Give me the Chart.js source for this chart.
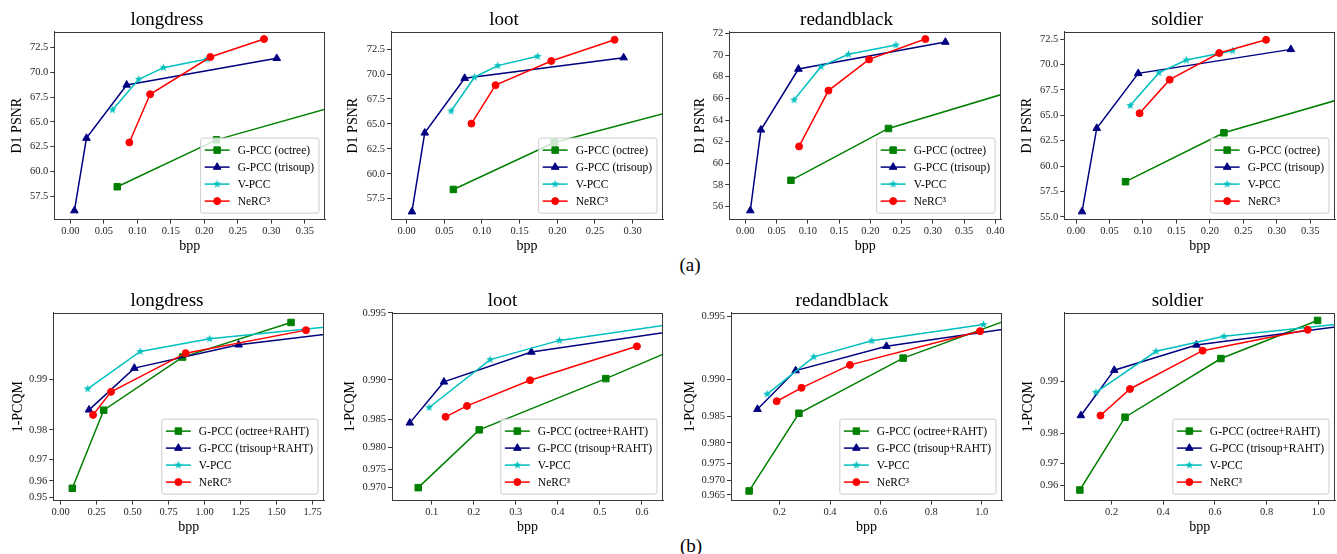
<!DOCTYPE html>
<html>
<head>
<meta charset="utf-8">
<script src="https://cdn.jsdelivr.net/npm/chart.js@4.4.0/dist/chart.umd.min.js"></script>
<style>
  html, body { margin: 0; padding: 0; background: #fff; overflow: hidden; }
  #fig { position: relative; width: 1337px; height: 554px; }
  #fig canvas { position: absolute; }
  .sub { position: absolute; font-family: "Liberation Serif", serif; font-size: 19px; color: #000;
         transform: translate(-50%, -50%); }
</style>
</head>
<body>
<div id="fig">
  <div class="sub" style="left:690px;top:265px">(a)</div>
  <div class="sub" style="left:691px;top:546px">(b)</div>
</div>
<script>
// series names
const psnrLabels = ['G-PCC (octree)', 'G-PCC (trisoup)', 'V-PCC', 'NeRC³'];
const pcqmLabels = ['G-PCC (octree+RAHT)', 'G-PCC (trisoup+RAHT)', 'V-PCC', 'NeRC³'];

// (a) D1 PSNR, points are [bpp, dB]
const d1LongdressOctree  = [[0.070, 58.47], [0.218, 63.19], [0.55, 69.49]];
const d1LongdressTrisoup = [[0.006, 56.06], [0.024, 63.36], [0.084, 68.72], [0.308, 71.40]];
const d1LongdressVpcc    = [[0.063, 66.21], [0.102, 69.29], [0.139, 70.46], [0.204, 71.33]];
const d1LongdressNerc    = [[0.088, 62.93], [0.119, 67.78], [0.209, 71.53], [0.289, 73.34]];

const d1LootOctree  = [[0.062, 58.43], [0.196, 63.14], [0.55, 70.22]];
const d1LootTrisoup = [[0.007, 56.20], [0.024, 64.10], [0.077, 69.58], [0.288, 71.64]];
const d1LootVpcc    = [[0.059, 66.29], [0.090, 69.68], [0.121, 70.84], [0.174, 71.77]];
const d1LootNerc    = [[0.086, 65.03], [0.118, 68.88], [0.192, 71.31], [0.276, 73.43]];

const d1RedblackOctree  = [[0.073, 58.43], [0.229, 63.22], [0.60, 69.66]];
const d1RedblackTrisoup = [[0.008, 55.63], [0.025, 63.09], [0.085, 68.71], [0.320, 71.20]];
const d1RedblackVpcc    = [[0.078, 65.86], [0.121, 68.93], [0.165, 70.07], [0.241, 70.93]];
const d1RedblackNerc    = [[0.086, 61.56], [0.133, 66.72], [0.198, 69.60], [0.288, 71.48]];

const d1SoldierOctree  = [[0.074, 58.47], [0.221, 63.28], [0.60, 70.51]];
const d1SoldierTrisoup = [[0.009, 55.52], [0.031, 63.73], [0.093, 69.13], [0.321, 71.49]];
const d1SoldierVpcc    = [[0.081, 65.96], [0.124, 69.20], [0.165, 70.44], [0.234, 71.36]];
const d1SoldierNerc    = [[0.095, 65.20], [0.140, 68.51], [0.214, 71.13], [0.284, 72.43]];

// (b) 1-PCQM, points are [bpp, score]
const pqLongdressOctree  = [[0.081, 0.95584], [0.299, 0.98473], [0.847, 0.99267], [1.600, 0.99547]];
const pqLongdressTrisoup = [[0.197, 0.98480], [0.512, 0.99146], [1.236, 0.99382], [2.50, 0.99545]];
const pqLongdressVpcc    = [[0.188, 0.98862], [0.553, 0.99322], [1.035, 0.99431], [2.40, 0.99570]];
const pqLongdressNerc    = [[0.225, 0.98371], [0.350, 0.98814], [0.868, 0.99306], [1.704, 0.99496]];

const pqLootOctree  = [[0.068, 0.97000], [0.213, 0.98332], [0.514, 0.99014], [0.80, 0.99418]];
const pqLootTrisoup = [[0.048, 0.98447], [0.129, 0.98980], [0.337, 0.99250], [0.80, 0.99441]];
const pqLootVpcc    = [[0.094, 0.98673], [0.239, 0.99189], [0.404, 0.99335], [0.80, 0.99481]];
const pqLootNerc    = [[0.133, 0.98540], [0.184, 0.98695], [0.334, 0.98997], [0.588, 0.99293]];

const pqRedblackOctree  = [[0.080, 0.96646], [0.277, 0.98551], [0.689, 0.99207], [1.30, 0.99574]];
const pqRedblackTrisoup = [[0.113, 0.98613], [0.264, 0.99091], [0.623, 0.99304], [1.30, 0.99469]];
const pqRedblackVpcc    = [[0.151, 0.98824], [0.336, 0.99218], [0.565, 0.99344], [1.007, 0.99452]];
const pqRedblackNerc    = [[0.189, 0.98729], [0.287, 0.98902], [0.479, 0.99146], [0.993, 0.99410]];

const pqSoldierOctree  = [[0.077, 0.95751], [0.252, 0.98386], [0.623, 0.99270], [0.997, 0.99565]];
const pqSoldierTrisoup = [[0.081, 0.98422], [0.210, 0.99145], [0.528, 0.99393], [1.30, 0.99572]];
const pqSoldierVpcc    = [[0.139, 0.98846], [0.372, 0.99338], [0.635, 0.99460], [1.30, 0.99580]];
const pqSoldierNerc    = [[0.157, 0.98422], [0.271, 0.98897], [0.552, 0.99344], [0.959, 0.99506]];

// tick values
const bppTicksTop   = [0, 0.05, 0.10, 0.15, 0.20, 0.25, 0.30, 0.35];
const bppTicksLoot  = [0, 0.05, 0.10, 0.15, 0.20, 0.25, 0.30];
const bppTicksRB    = [0, 0.05, 0.10, 0.15, 0.20, 0.25, 0.30, 0.35, 0.40];
const psnrTicks     = [57.5, 60, 62.5, 65, 67.5, 70, 72.5];
const psnrTicksRB   = [56, 58, 60, 62, 64, 66, 68, 70, 72];
const psnrTicksSold = [55, 57.5, 60, 62.5, 65, 67.5, 70, 72.5];
const bppTicksB1    = [0, 0.25, 0.5, 0.75, 1.0, 1.25, 1.5, 1.75];
const bppTicksB2    = [0.1, 0.2, 0.3, 0.4, 0.5, 0.6];
const bppTicksB3    = [0.2, 0.4, 0.6, 0.8, 1.0];
const pcqmTicks1    = [0.95, 0.96, 0.97, 0.98, 0.99];
const pcqmTicks2    = [0.970, 0.975, 0.980, 0.985, 0.990, 0.995];
const pcqmTicks3    = [0.965, 0.970, 0.975, 0.980, 0.985, 0.990, 0.995];
const pcqmTicks4    = [0.96, 0.97, 0.98, 0.99];

// ---- styling ----
const SERIF = '"Liberation Serif", "DejaVu Serif", serif';
const colors = ['#008000', '#000080', '#00bfbf', '#ff0000'];
const AXIS = '#3a3a3a';

function starImage(color, r) {
  const c = document.createElement('canvas');
  const s = Math.ceil(r * 2 + 2);
  c.width = c.height = s;
  const g = c.getContext('2d');
  g.beginPath();
  for (let i = 0; i < 10; i++) {
    const rr = i % 2 ? r * 0.42 : r;
    const a = -Math.PI / 2 + i * Math.PI / 5;
    g.lineTo(s / 2 + rr * Math.cos(a), s / 2 + rr * Math.sin(a));
  }
  g.closePath();
  g.fillStyle = color;
  g.fill();
  return c;
}
const markers = [
  { style: 'rect', radius: 4.6 },
  { style: 'triangle', radius: 4.4 },
  { style: starImage(colors[2], 4.2), radius: 4 },
  { style: 'circle', radius: 3.5 },
];

// logit axis like matplotlib's yscale('logit')
const logit = p => Math.log10(p / (1 - p));
const expit = l => 1 / (1 + Math.pow(10, -l));
class LogitScale extends Chart.LinearScale {
  configure() {
    super.configure();
    this._lo = logit(this.min);
    this._span = logit(this.max) - this._lo;
  }
  getPixelForValue(v) {
    return this.getPixelForDecimal((logit(v) - this._lo) / this._span);
  }
  getValueForPixel(px) {
    return expit(this._lo + this.getDecimalForPixel(px) * this._span);
  }
}
LogitScale.id = 'logit';
LogitScale.defaults = Chart.LinearScale.defaults;
Chart.register(LogitScale);

// frame + matplotlib style legend in the lower right corner
const boxLegend = {
  id: 'boxLegend',
  afterDraw(chart) {
    const { ctx, chartArea: a } = chart;
    ctx.save();
    ctx.strokeStyle = AXIS;
    ctx.lineWidth = 1;
    ctx.strokeRect(Math.round(a.left) + 0.5, Math.round(a.top) + 0.5,
                   Math.round(a.width) - 1, Math.round(a.height) - 1);

    ctx.font = '11.5px ' + SERIF;
    const sets = chart.data.datasets;
    const textW = Math.max(...sets.map(d => ctx.measureText(d.label).width));
    const rowH = 17, pad = 3.5;
    const w = 4 + 25 + 8 + textW + 5;
    const h = rowH * sets.length + 2 * pad;
    const x0 = a.right - 6 - w, y0 = a.bottom - 6.5 - h;
    ctx.beginPath();
    ctx.roundRect(x0, y0, w, h, 2);
    ctx.fillStyle = 'rgba(255,255,255,0.8)';
    ctx.fill();
    ctx.strokeStyle = '#cccccc';
    ctx.stroke();

    sets.forEach((d, i) => {
      const y = y0 + pad + rowH * (i + 0.5);
      ctx.strokeStyle = d.borderColor;
      ctx.fillStyle = d.borderColor;
      ctx.lineWidth = 1.5;
      ctx.beginPath();
      ctx.moveTo(x0 + 4, y);
      ctx.lineTo(x0 + 29, y);
      ctx.stroke();
      ctx.lineWidth = 1;
      Chart.helpers.drawPoint(ctx, { pointStyle: d.pointStyle, radius: d.pointRadius, borderWidth: 1, rotation: 0 }, x0 + 16.5, y);
      ctx.fillStyle = '#000';
      ctx.textBaseline = 'middle';
      ctx.textAlign = 'left';
      ctx.fillText(d.label, x0 + 37, y + 0.5);
    });
    ctx.restore();
  }
};

// panel placement: plot frame edges in page pixels
const panels = [
  { title: 'longdress', yTitle: 'D1 PSNR', labels: psnrLabels,
    series: [d1LongdressOctree, d1LongdressTrisoup, d1LongdressVpcc, d1LongdressNerc],
    x: [-0.024, 0.380], xt: bppTicksTop, xd: 2, y: [55.16, 74.07], yt: psnrTicks, yd: 1, yType: 'linear',
    L: 54.3, R: 325, T: 31.8, B: 220, yOff: 37 },
  { title: 'loot', yTitle: 'D1 PSNR', labels: psnrLabels,
    series: [d1LootOctree, d1LootTrisoup, d1LootVpcc, d1LootNerc],
    x: [-0.0208, 0.3403], xt: bppTicksLoot, xd: 2, y: [55.41, 74.23], yt: psnrTicks, yd: 1, yType: 'linear',
    L: 391, R: 662.7, T: 31.8, B: 220, yOff: 37.7 },
  { title: 'redandblack', yTitle: 'D1 PSNR', labels: psnrLabels,
    series: [d1RedblackOctree, d1RedblackTrisoup, d1RedblackVpcc, d1RedblackNerc],
    x: [-0.0256, 0.409], xt: bppTicksRB, xd: 2, y: [54.8, 72.15], yt: psnrTicksRB, yd: 0, yType: 'linear',
    L: 729.3, R: 1001, T: 31.8, B: 220, yOff: 28.6 },
  { title: 'soldier', yTitle: 'D1 PSNR', labels: psnrLabels,
    series: [d1SoldierOctree, d1SoldierTrisoup, d1SoldierVpcc, d1SoldierNerc],
    x: [-0.0175, 0.387], xt: bppTicksTop, xd: 2, y: [54.74, 73.22], yt: psnrTicksSold, yd: 1, yType: 'linear',
    L: 1064.3, R: 1335.3, T: 31.8, B: 220, yOff: 37 },

  { title: 'longdress', yTitle: '1-PCQM', labels: pcqmLabels,
    series: [pqLongdressOctree, pqLongdressTrisoup, pqLongdressVpcc, pqLongdressNerc],
    x: [-0.051, 1.829], xt: bppTicksB1, xd: 2, y: [0.94798, 0.99604], yt: pcqmTicks1, yd: 2, yType: 'logit',
    L: 53.3, R: 324, T: 312.5, B: 500.5, yOff: 35 },
  { title: 'loot', yTitle: '1-PCQM', labels: pcqmLabels,
    series: [pqLootOctree, pqLootTrisoup, pqLootVpcc, pqLootNerc],
    x: [0.0056, 0.65], xt: bppTicksB2, xd: 1, y: [0.96582, 0.995], yt: pcqmTicks2, yd: 3, yType: 'logit',
    L: 392, R: 662.7, T: 312.5, B: 500.5, yOff: 41.3 },
  { title: 'redandblack', yTitle: '1-PCQM', labels: pcqmLabels,
    series: [pqRedblackOctree, pqRedblackTrisoup, pqRedblackVpcc, pqRedblackNerc],
    x: [0.0083, 1.08], xt: bppTicksB3, xd: 1, y: [0.96282, 0.99518], yt: pcqmTicks3, yd: 3, yType: 'logit',
    L: 731, R: 1002, T: 312.5, B: 500.5, yOff: 41 },
  { title: 'soldier', yTitle: '1-PCQM', labels: pcqmLabels,
    series: [pqSoldierOctree, pqSoldierTrisoup, pqSoldierVpcc, pqSoldierNerc],
    x: [0.0168, 1.0645], xt: bppTicksB3, xd: 1, y: [0.9512, 0.99608], yt: pcqmTicks4, yd: 2, yType: 'logit',
    L: 1064.3, R: 1335, T: 312.5, B: 500.5, yOff: 36 },
];

const fig = document.getElementById('fig');
const TITLE_H = 31.8, X_H = 35.4, PAD_R = 8;
const tickFont = { size: 10.5, family: SERIF };
const labelFont = { size: 14, family: SERIF };

panels.forEach(p => {
  const left = Math.round(p.L - p.yOff - 8.4);
  const top = Math.round(p.T - TITLE_H);
  const yW = p.L - left;
  const width = Math.round(yW + (p.R - p.L) + PAD_R);
  const height = Math.round(TITLE_H + (p.B - p.T) + X_H);
  const canvas = document.createElement('canvas');
  canvas.width = width;
  canvas.height = height;
  canvas.style.left = left + 'px';
  canvas.style.top = top + 'px';
  fig.appendChild(canvas);

  const datasets = p.series.map((pts, i) => ({
    label: p.labels[i],
    data: pts.map(([x, y]) => ({ x, y })),
    borderColor: colors[i],
    backgroundColor: colors[i],
    pointBorderColor: colors[i],
    pointBackgroundColor: colors[i],
    pointStyle: markers[i].style,
    pointRadius: markers[i].radius,
    pointBorderWidth: 1,
    borderWidth: 1.5,
    tension: 0,
    order: 3 - i,
  }));

  new Chart(canvas, {
    type: 'line',
    data: { datasets },
    options: {
      responsive: false,
      animation: false,
      events: [],
      layout: { padding: { left: 0, right: PAD_R, top: 0, bottom: 0 } },
      plugins: {
        legend: { display: false },
        tooltip: { enabled: false },
        title: { display: true, text: p.title, color: '#000',
                 font: { size: 19, family: SERIF, weight: 'normal' }, padding: { top: 9, bottom: 0 } },
      },
      scales: {
        x: {
          type: 'linear', min: p.x[0], max: p.x[1], bounds: 'data',
          afterBuildTicks: s => { s.ticks = p.xt.map(v => ({ value: v })); },
          afterFit: s => { s.height = X_H; },
          ticks: { callback: v => v.toFixed(p.xd), font: tickFont, color: '#262626',
                   padding: 1, maxRotation: 0, autoSkip: false },
          grid: { drawOnChartArea: false, tickLength: 4, color: AXIS },
          border: { color: AXIS },
          title: { display: true, text: 'bpp', color: '#000', font: labelFont, padding: 0 },
        },
        y: {
          type: p.yType, min: p.y[0], max: p.y[1], bounds: 'data',
          afterBuildTicks: s => { s.ticks = p.yt.map(v => ({ value: v })); },
          afterFit: s => { s.width = yW; },
          ticks: { callback: v => v.toFixed(p.yd), font: tickFont, color: '#262626',
                   padding: 2, autoSkip: false },
          grid: { drawOnChartArea: false, tickLength: 4, color: AXIS },
          border: { color: AXIS },
          title: { display: true, text: p.yTitle, color: '#000', font: labelFont, padding: 0 },
        },
      },
    },
    plugins: [boxLegend],
  });
});
</script>
</body>
</html>
